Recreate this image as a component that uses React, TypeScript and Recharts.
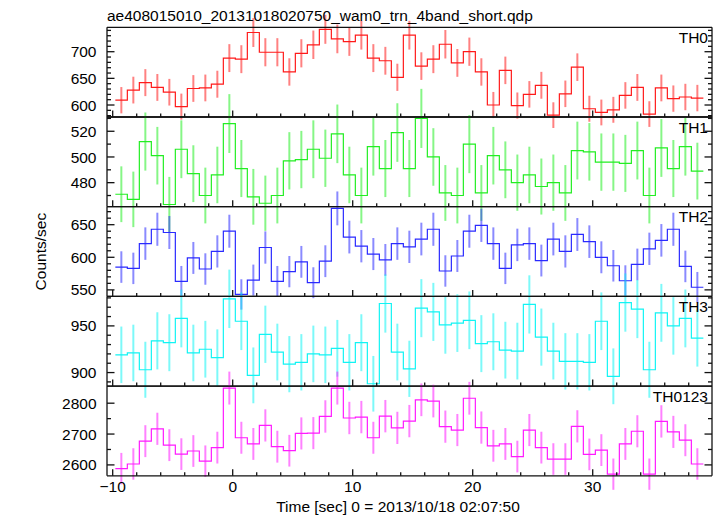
import React from 'react';
import { ComposedChart, Line, Scatter, ErrorBar, XAxis, YAxis } from 'recharts';

// bin centres [sec], 1 s bins
const TIME = [
  -9.28, -8.28, -7.28, -6.28, -5.28, -4.28, -3.28, -2.28, -1.28, -0.28,
  0.72, 1.72, 2.72, 3.72, 4.72, 5.72, 6.72, 7.72, 8.72, 9.72,
  10.72, 11.72, 12.72, 13.72, 14.72, 15.72, 16.72, 17.72, 18.72, 19.72,
  20.72, 21.72, 22.72, 23.72, 24.72, 25.72, 26.72, 27.72, 28.72, 29.72,
  30.72, 31.72, 32.72, 33.72, 34.72, 35.72, 36.72, 37.72, 38.72,
];
const BIN_WIDTH = 1.0;

const TH0_RATE = [
  609, 628, 642, 633, 624, 597, 631, 632, 639, 688, 686, 736, 699, 699, 662, 697, 713,
  742, 724, 719, 731, 688, 683, 652, 731, 673, 686, 714, 679, 700, 662, 600, 665, 599,
  620, 637, 581, 621, 671, 593, 586, 591, 618, 633, 583, 632, 612, 615, 613,
];
const TH0_ERR = [
  24.7, 25.1, 25.3, 25.2, 25.0, 24.4, 25.1, 25.1, 25.3, 26.2, 26.2, 27.1, 26.4, 26.4, 25.7, 26.4, 26.7,
  27.2, 26.9, 26.8, 27.0, 26.2, 26.1, 25.5, 27.0, 25.9, 26.2, 26.7, 26.1, 26.5, 25.7, 24.5, 25.8, 24.5,
  24.9, 25.2, 24.1, 24.9, 25.9, 24.4, 24.2, 24.3, 24.9, 25.2, 24.1, 25.1, 24.7, 24.8, 24.8,
];

const TH1_RATE = [
  471, 467, 512, 501, 463, 506, 487, 470, 486, 526, 491, 469, 464, 470, 497, 498, 506,
  499, 518, 486, 470, 508, 491, 519, 491, 530, 500, 472, 470, 510, 472, 501, 490, 480,
  486, 477, 480, 472, 505, 504, 496, 496, 495, 505, 470, 507, 491, 508, 489,
];
const TH1_ERR = [
  21.7, 21.6, 22.6, 22.4, 21.5, 22.5, 22.1, 21.7, 22.0, 22.9, 22.2, 21.7, 21.5, 21.7, 22.3, 22.3, 22.5,
  22.3, 22.8, 22.0, 21.7, 22.5, 22.2, 22.8, 22.2, 23.0, 22.4, 21.7, 21.7, 22.6, 21.7, 22.4, 22.1, 21.9,
  22.0, 21.8, 21.9, 21.7, 22.5, 22.4, 22.3, 22.3, 22.2, 22.5, 21.7, 22.5, 22.2, 22.5, 22.1,
];

const TH2_RATE = [
  585, 583, 621, 643, 638, 563, 599, 582, 609, 640, 543, 565, 615, 563, 578, 593, 561,
  594, 675, 631, 617, 605, 596, 621, 616, 628, 643, 579, 602, 640, 649, 621, 583, 619,
  621, 595, 628, 609, 635, 624, 600, 587, 564, 589, 613, 626, 643, 586, 554,
];
const TH2_ERR = [
  24.2, 24.1, 24.9, 25.4, 25.3, 23.7, 24.5, 24.1, 24.7, 25.3, 23.3, 23.8, 24.8, 23.7, 24.0, 24.4, 23.7,
  24.4, 26.0, 25.1, 24.8, 24.6, 24.4, 24.9, 24.8, 25.1, 25.4, 24.1, 24.5, 25.3, 25.5, 24.9, 24.1, 24.9,
  24.9, 24.4, 25.1, 24.7, 25.2, 25.0, 24.5, 24.2, 23.7, 24.3, 24.8, 25.0, 25.4, 24.2, 23.5,
];

const TH3_RATE = [
  919, 921, 903, 934, 932, 958, 921, 925, 916, 979, 955, 897, 941, 922, 909, 911, 920,
  919, 926, 911, 932, 888, 974, 922, 904, 969, 965, 951, 953, 956, 931, 933, 924, 923,
  973, 938, 923, 912, 912, 911, 955, 896, 975, 968, 903, 964, 950, 958, 937,
];
const TH3_ERR = [
  30.3, 30.3, 30.0, 30.6, 30.5, 31.0, 30.3, 30.4, 30.3, 31.3, 30.9, 29.9, 30.7, 30.4, 30.1, 30.2, 30.3,
  30.3, 30.4, 30.2, 30.5, 29.8, 31.2, 30.4, 30.1, 31.1, 31.1, 30.8, 30.9, 30.9, 30.5, 30.5, 30.4, 30.4,
  31.2, 30.6, 30.4, 30.2, 30.2, 30.2, 30.9, 29.9, 31.2, 31.1, 30.0, 31.0, 30.8, 31.0, 30.6,
];

const TH0123_RATE = [
  2588, 2603, 2677, 2717, 2664, 2635, 2645, 2612, 2656, 2849, 2688, 2668, 2728, 2659, 2646, 2702, 2703,
  2757, 2849, 2752, 2755, 2688, 2758, 2720, 2742, 2811, 2807, 2724, 2713, 2816, 2721, 2662, 2668, 2627,
  2713, 2656, 2619, 2619, 2725, 2634, 2648, 2570, 2668, 2709, 2570, 2741, 2707, 2680, 2603,
];
const TH0123_ERR = [
  50.9, 51.0, 51.7, 52.1, 51.6, 51.3, 51.4, 51.1, 51.5, 53.4, 51.8, 51.7, 52.2, 51.6, 51.4, 52.0, 52.0,
  52.5, 53.4, 52.5, 52.5, 51.8, 52.5, 52.2, 52.4, 53.0, 53.0, 52.2, 52.1, 53.1, 52.2, 51.6, 51.7, 51.3,
  52.1, 51.5, 51.2, 51.2, 52.2, 51.3, 51.5, 50.7, 51.7, 52.0, 50.7, 52.4, 52.0, 51.8, 51.0,
];

const X_MAJOR = [-10, 0, 10, 20, 30];
const X_MINOR = [-8, -6, -4, -2, 2, 4, 6, 8, 12, 14, 16, 18, 22, 24, 26, 28, 32, 34, 36, 38];

const TH0_MAJOR = [600, 650, 700];
const TH0_MINOR = [580, 590, 610, 620, 630, 640, 660, 670, 680, 690, 710, 720, 730, 740];
const TH1_MAJOR = [480, 500, 520];
const TH1_MINOR = [470, 490, 510, 530];
const TH2_MAJOR = [550, 600, 650];
const TH2_MINOR = [560, 570, 580, 590, 610, 620, 630, 640, 660, 670];
const TH3_MAJOR = [900, 950];
const TH3_MINOR = [890, 910, 920, 930, 940, 960, 970, 980];
const TH0123_MAJOR = [2600, 2700, 2800];
const TH0123_MINOR = [2650, 2750];

const TITLE = 'ae408015010_20131018020750_wam0_trn_4band_short.qdp';
const X_LABEL = 'Time [sec] 0 = 2013/10/18 02:07:50';
const Y_LABEL = 'Counts/sec';

const FONT = '"Liberation Sans", Arial, Helvetica, sans-serif';
const FS = 15.5;
const W = 717;
const H = 516;
const PLOT_LEFT = 107;
const PLOT_RIGHT = 712;
const PLOT_TOP = 27.3;
const PANEL_H = 89.7;
const X_DOMAIN: [number, number] = [-10.475, 39.94];
const FRAME = '#111';

const panels = [
  { name: 'TH0', rate: TH0_RATE, err: TH0_ERR, color: '#ff1a1a', domain: [577.5, 745.8], major: TH0_MAJOR, minor: TH0_MINOR },
  { name: 'TH1', rate: TH1_RATE, err: TH1_ERR, color: '#22ee22', domain: [461.3, 531.1], major: TH1_MAJOR, minor: TH1_MINOR },
  { name: 'TH2', rate: TH2_RATE, err: TH2_ERR, color: '#2a2aff', domain: [540, 677.6], major: TH2_MAJOR, minor: TH2_MINOR },
  { name: 'TH3', rate: TH3_RATE, err: TH3_ERR, color: '#11f4f4', domain: [885.5, 981.6], major: TH3_MAJOR, minor: TH3_MINOR },
  { name: 'TH0123', rate: TH0123_RATE, err: TH0123_ERR, color: '#ff1aff', domain: [2564.7, 2855.4], major: TH0123_MAJOR, minor: TH0123_MINOR },
];

const fmt = (v: number) => (v < 0 ? `\u2212${-v}` : `${v}`);

function XTick(props: any) {
  const { x, y, payload, side, showLabel } = props;
  const v = payload.value;
  const major = X_MAJOR.includes(v);
  const len = major ? 6.5 : 3.5;
  const dir = side === 'bottom' ? -1 : 1;
  return (
    <g>
      <line x1={x} y1={y} x2={x} y2={y + dir * len} stroke={FRAME} strokeWidth={1.3} />
      {showLabel && major && (
        <text x={x} y={y + 16.3} textAnchor="middle" fontSize={FS} fontFamily={FONT} fill="#000">
          {fmt(v)}
        </text>
      )}
    </g>
  );
}

function YTick(props: any) {
  const { x, y, payload, side, major } = props;
  const v = payload.value;
  const isMajor = major.includes(v);
  const len = isMajor ? 7.5 : 4;
  const dir = side === 'left' ? 1 : -1;
  return (
    <g>
      <line x1={x} y1={y} x2={x + dir * len} y2={y} stroke={FRAME} strokeWidth={1.3} />
      {side === 'left' && isMajor && (
        <text x={x - 10.5} y={y} dy="0.36em" textAnchor="end" fontSize={FS} fontFamily={FONT} fill="#000">
          {v}
        </text>
      )}
    </g>
  );
}

function Panel({ p, index }: { p: (typeof panels)[number]; index: number }) {
  const top = PLOT_TOP + index * PANEL_H;
  const bottom = H - top - PANEL_H;
  const last = index === panels.length - 1;

  const steps = TIME.map((t, i) => ({ t: t - BIN_WIDTH / 2, v: p.rate[i] }));
  steps.push({ t: TIME[TIME.length - 1] + BIN_WIDTH / 2, v: p.rate[p.rate.length - 1] });
  const points = TIME.map((t, i) => ({ t, v: p.rate[i], e: p.err[i] }));
  const yTicks = [...p.major, ...p.minor];
  const xTicks = [...X_MAJOR, ...X_MINOR];
  const axisLine = { stroke: FRAME, strokeWidth: 1.3 };

  // axes are 1px thick boxes, so the margins are 1px smaller on every side
  return (
    <div style={{ position: 'absolute', left: 0, top: 0 }}>
      <ComposedChart
        width={W}
        height={H}
        margin={{ top: top - 1, bottom: bottom - 1, left: PLOT_LEFT - 1, right: W - PLOT_RIGHT - 1 }}
      >
        <XAxis
          xAxisId="b"
          dataKey="t"
          type="number"
          domain={X_DOMAIN}
          allowDataOverflow
          ticks={xTicks}
          interval={0}
          height={1}
          tickSize={0}
          tickMargin={0}
          tickLine={false}
          axisLine={axisLine}
          tick={(t: any) => <XTick {...t} side="bottom" showLabel={last} />}
        />
        <XAxis
          xAxisId="t"
          orientation="top"
          type="number"
          domain={X_DOMAIN}
          allowDataOverflow
          ticks={xTicks}
          interval={0}
          height={1}
          tickSize={0}
          tickMargin={0}
          tickLine={false}
          axisLine={axisLine}
          tick={(t: any) => <XTick {...t} side="top" showLabel={false} />}
        />
        <YAxis
          yAxisId="l"
          type="number"
          domain={p.domain}
          allowDataOverflow
          ticks={yTicks}
          interval={0}
          width={1}
          tickSize={0}
          tickMargin={0}
          tickLine={false}
          axisLine={axisLine}
          tick={(t: any) => <YTick {...t} side="left" major={p.major} />}
        />
        <YAxis
          yAxisId="r"
          orientation="right"
          type="number"
          domain={p.domain}
          allowDataOverflow
          ticks={yTicks}
          interval={0}
          width={1}
          tickSize={0}
          tickMargin={0}
          tickLine={false}
          axisLine={axisLine}
          tick={(t: any) => <YTick {...t} side="right" major={p.major} />}
        />
        <Scatter
          data={points}
          dataKey="v"
          xAxisId="b"
          yAxisId="l"
          shape={() => <g />}
          isAnimationActive={false}
        >
          <ErrorBar
            dataKey="e"
            direction="y"
            width={0}
            stroke={p.color}
            strokeOpacity={0.55}
            strokeWidth={2}
            isAnimationActive={false}
          />
        </Scatter>
        <Line
          data={steps}
          dataKey="v"
          xAxisId="b"
          yAxisId="l"
          type="stepAfter"
          stroke={p.color}
          strokeWidth={1.2}
          dot={false}
          activeDot={false}
          isAnimationActive={false}
        />
      </ComposedChart>
    </div>
  );
}

export default function App() {
  return (
    <div style={{ position: 'absolute', left: 0, top: 0, width: W, height: H, background: '#fff' }}>
      {panels.map((p, i) => (
        <Panel key={p.name} p={p} index={i} />
      ))}
      <svg
        width={W}
        height={H}
        style={{ position: 'absolute', left: 0, top: 0, pointerEvents: 'none' }}
        fontFamily={FONT}
        fontSize={FS}
      >
        <text x={107} y={21.2} fill="#000">{TITLE}</text>
        {panels.map((p, i) => (
          <text key={p.name} x={708} y={PLOT_TOP + i * PANEL_H + 15.5} textAnchor="end" fill="#000">
            {p.name}
          </text>
        ))}
        <text x={398} y={512} textAnchor="middle" fill="#000">{X_LABEL}</text>
        <text x={46.5} y={251.6} textAnchor="middle" fill="#000" transform="rotate(-90, 46.5, 251.6)">
          {Y_LABEL}
        </text>
      </svg>
    </div>
  );
}
